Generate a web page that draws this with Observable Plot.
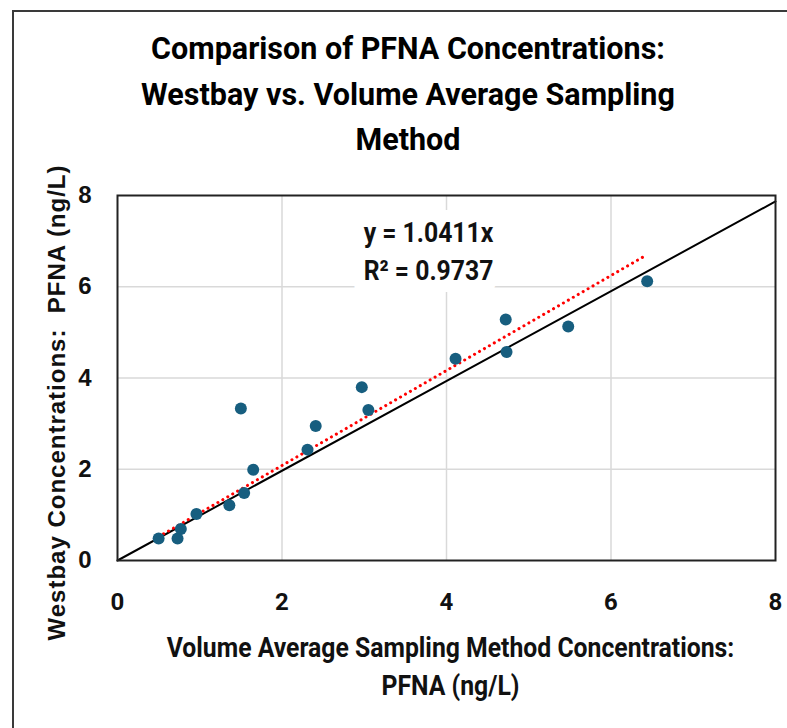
<!DOCTYPE html>
<html><head><meta charset="utf-8">
<script src="https://cdn.jsdelivr.net/npm/d3@7"></script>
<script src="https://cdn.jsdelivr.net/npm/@observablehq/plot@0.6"></script>
<style>
body{margin:0;background:#fff;}
#wrap{position:relative;width:787px;height:728px;overflow:hidden;background:#fff;}
#frame{position:absolute;left:12px;top:10px;width:820px;height:800px;border:2px solid #3a3a3a;box-sizing:border-box;}
#title{position:absolute;left:0;top:26px;width:816px;text-align:center;font-family:Roboto,"Liberation Sans",sans-serif;font-weight:bold;font-size:30.5px;line-height:45.5px;color:#000;}
#chart{position:absolute;left:0;top:165px;}
#chart text[aria-label="y-title"]{letter-spacing:1px;}
</style></head>
<body>
<div id="wrap">
  <div id="frame"></div>
  <div id="title"></div>
  <div id="chart"></div>
</div>
<script>
// ---- data ----
const titleLines = ["Comparison of PFNA Concentrations:", "Westbay vs. Volume Average Sampling", "Method"];
const xTitleLines = ["Volume Average Sampling Method Concentrations:", "PFNA (ng/L)"];
const yTitle = "Westbay Concentrations:\u00a0 PFNA (ng/L)";
const xTicks = [0, 2, 4, 6, 8];
const yTicks = [0, 2, 4, 6, 8];
const volumeAvg = [0.50, 0.73, 0.77, 0.96, 1.36, 1.54, 1.65, 1.50, 2.31, 2.41, 2.97, 3.05, 4.11, 4.72, 4.73, 5.48, 6.44];
const westbay   = [0.48, 0.48, 0.69, 1.02, 1.21, 1.48, 1.99, 3.33, 2.43, 2.95, 3.80, 3.30, 4.42, 5.28, 4.57, 5.13, 6.12];
const refLineX = [0, 8];
const refLineY = [0, 7.87];
const trendSlope = 1.0411;
const trendR2 = 0.9737;

// ---- build ----
document.getElementById("title").innerHTML = titleLines.map(t => `<div>${t}</div>`).join("");

const points = volumeAvg.map((v, i) => ({x: v, y: westbay[i]}));
const refLine = refLineX.map((v, i) => ({x: v, y: refLineY[i]}));
const trendX = d3.extent(volumeAvg);
const trend = trendX.map(v => ({x: v, y: trendSlope * v}));
const annotation = `y = ${trendSlope.toFixed(4)}x\nR\u00b2 = ${trendR2.toFixed(4)}`;

const cond = 'Roboto,"Liberation Sans",sans-serif';
const arial = '"Liberation Sans",Arial,sans-serif';
const narrow = 0.9; // horizontal squeeze to mimic the narrow typeface

const chart = Plot.plot({
  width: 787, height: 563,
  marginTop: 30, marginBottom: 168, marginLeft: 117, marginRight: 12,
  x: {domain: [0, 8]},
  y: {domain: [0, 8]},
  style: {background: "transparent", overflow: "visible"},
  marks: [
    Plot.gridX(xTicks.slice(1, -1), {stroke: "#d9d9d9", strokeOpacity: 1, strokeWidth: 1.5}),
    Plot.gridY(yTicks.slice(1, -1), {stroke: "#d9d9d9", strokeOpacity: 1, strokeWidth: 1.5}),
    Plot.axisX(xTicks, {tickSize: 0, tickPadding: 32, fontSize: 24, fontWeight: "bold", fontFamily: cond, fill: "#111", label: null}),
    Plot.axisY(yTicks, {tickSize: 0, tickPadding: 26, fontSize: 24, fontWeight: "bold", fontFamily: arial, fill: "#111", label: null}),
    Plot.line(refLine, {x: "x", y: "y", stroke: "#000", strokeWidth: 2}),
    Plot.line(trend, {x: "x", y: "y", stroke: "#ff0000", strokeWidth: 3, strokeDasharray: "0.1,5.6", strokeLinecap: "round"}),
    Plot.dot(points, {x: "x", y: "y", r: 6, fill: "#175e7f", stroke: "none"}),
    Plot.frame({stroke: "#222", strokeWidth: 2}),
    Plot.text([annotation], {text: d => d, frameAnchor: "top", dx: -18, dy: 53.5, lineAnchor: "middle", lineHeight: 1.37,
      fontSize: 27.5, fontWeight: "bold", fontFamily: cond, fill: "#111", stroke: "white", strokeWidth: 24, strokeLinejoin: "miter", ariaLabel: () => "annotation"}),
    Plot.text([yTitle], {text: d => d, frameAnchor: "left", textAnchor: "middle", rotate: -90, dx: -60, dy: 24.5,
      fontSize: 24, fontWeight: "bold", fontFamily: arial, fill: "#111", ariaLabel: () => "y-title"}),
    Plot.text([xTitleLines.join("\n")], {text: d => d, frameAnchor: "bottom", dx: 4, dy: 103, lineAnchor: "middle", lineHeight: 1.4,
      fontSize: 27.5, fontWeight: "bold", fontFamily: cond, fill: "#111", ariaLabel: () => "x-title"})
  ]
});
document.getElementById("chart").appendChild(chart);

// squeeze the narrow-typeface texts horizontally about their anchor
chart.querySelectorAll('text[aria-label="x-title"], text[aria-label="annotation"]').forEach(t => {
  const tr = t.getAttribute("transform") || "";
  t.setAttribute("transform", `${tr} scale(${narrow},1)`.trim());
});
</script>
</body></html>
